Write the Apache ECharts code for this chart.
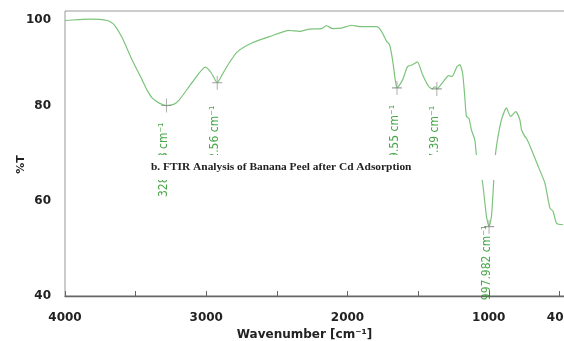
<!DOCTYPE html>
<html>
<head>
<meta charset="utf-8">
<script src="https://cdn.jsdelivr.net/npm/echarts@6/dist/echarts.min.js"></script>
<style>
  html, body { margin: 0; padding: 0; background: #fff; }
  #main { width: 564px; height: 341px; }
</style>
</head>
<body>
<div id="main"></div>
<script>
// spectrum (wavenumber, %T)
var wavenumber = [4000, 3900, 3830, 3700, 3652, 3596, 3525, 3454, 3420, 3383, 3333, 3282.18, 3227, 3191, 3121, 3099, 3007, 2965,
  2922.56, 2887, 2837, 2780, 2674, 2553, 2411, 2340, 2270, 2184, 2149, 2106, 2043, 1972, 1915, 1794,
  1759, 1723, 1702, 1681, 1662, 1649.55, 1610, 1575, 1540, 1505, 1470, 1425, 1400, 1385, 1375, 1367.39,
  1320, 1285, 1260, 1225, 1205, 1185, 1170, 1158, 1140, 1123, 1099, 1087, 1045, 1016, 997.982, 981, 965,
  953, 934, 910, 875, 846, 809, 780, 768, 745, 733, 697, 650, 603, 567, 544, 520, 473];
var transmittance = [98.0, 98.2, 98.3, 98.0, 97.1, 94.4, 89.7, 85.5, 83.4, 81.7, 80.6, 80.1, 80.4, 81.3, 84.1, 85.0, 88.2, 87.0,
  84.9, 86.6, 89.1, 91.4, 93.3, 94.6, 95.9, 95.7, 96.2, 96.3, 96.9, 96.3, 96.4, 97.0, 96.7, 96.7,
  95.7, 93.6, 92.9, 89.7, 85.5, 83.8, 85.5, 88.3, 88.7, 89.3, 86.7, 84.1, 83.6, 84.0, 84.0, 83.6,
  85.2, 86.4, 86.2, 88.3, 88.7, 86.9, 82.0, 77.8, 77.4, 75.0, 72.9, 69.7, 64.1, 56.7, 54.6, 56.7, 64.1,
  69.7, 73.6, 77.1, 79.6, 77.8, 78.8, 77.1, 75.0, 73.6, 73.2, 70.8, 67.3, 63.8, 58.5, 57.8, 55.3, 55.0];

// marked peaks
var peakWn = [3282.18, 2922.56, 1649.55, 1367.39, 997.982];
var peakT = [80.1, 84.9, 83.8, 83.6, 54.6];
var peakText = ['3282.18 cm⁻¹', '2922.56 cm⁻¹', '1649.55 cm⁻¹', '1367.39 cm⁻¹', '997.982 cm⁻¹'];

// axis labels
var xLabels = { 4000: '4000', 3000: '3000', 2000: '2000', 1000: '1000', 500: '400' };
var yLabels = [40, 60, 80, 100];

var chart = echarts.init(document.getElementById('main'));

var lineData = wavenumber.map(function (w, i) { return [w, transmittance[i]]; });

var labelGap = [20, 26, 20, 20, 2];
var peakData = peakWn.map(function (w, i) {
  return {
    value: [w, peakT[i]],
    label: { formatter: peakText[i], position: [5, 7 + labelGap[i]] }
  };
});

var option = {
  animation: false,
  title: {
    text: 'b. FTIR Analysis of Banana Peel after Cd Adsorption',
    left: 140,
    top: 155,
    backgroundColor: '#fff',
    padding: [7, 98, 7, 11],
    textStyle: { fontFamily: 'Liberation Serif', fontWeight: 'bold', fontSize: 11.4, color: '#222' }
  },
  grid: {
    left: 65, right: -66, top: 11, bottom: 45,
    outerBoundsMode: 'none',
    containLabel: false,
    show: true, borderColor: '#999', borderWidth: 1
  },
  xAxis: {
    type: 'value',
    inverse: true,
    min: 0, max: 4000, interval: 500,
    name: 'Wavenumber [cm⁻¹]',
    nameLocation: 'middle',
    nameGap: 29,
    nameTextStyle: { fontFamily: 'DejaVu Sans', fontWeight: 'bold', fontSize: 12, color: '#222', padding: [0, 86, 0, 0] },
    axisLine: { lineStyle: { color: '#666', width: 1.3 } },
    axisTick: { inside: true, length: 5, lineStyle: { color: '#666' } },
    splitLine: { show: false },
    axisLabel: {
      margin: 16,
      fontFamily: 'DejaVu Sans', fontWeight: 'bold', fontSize: 12, color: '#222',
      formatter: function (v) { return xLabels[v] || ''; }
    }
  },
  yAxis: {
    type: 'value',
    min: 40, max: 100, interval: 10,
    name: '%T',
    nameLocation: 'middle',
    nameGap: 38,
    nameRotate: 90,
    nameMoveOverlap: false,
    nameTextStyle: { fontFamily: 'DejaVu Sans', fontWeight: 'bold', fontSize: 11, color: '#222', padding: [0, 22, 0, 0] },
    axisLine: { show: true, lineStyle: { color: '#666', width: 1.3 } },
    axisTick: { show: true, inside: true, length: 5, lineStyle: { color: '#666' } },
    splitLine: { show: false },
    axisLabel: {
      margin: 14,
      fontFamily: 'DejaVu Sans', fontWeight: 'bold', fontSize: 12, color: '#222', lineHeight: 18,
      formatter: function (v) {
        if (yLabels.indexOf(v) < 0) return '';
        return v === 100 ? '\n100' : String(v);
      }
    }
  },
  series: [
    {
      type: 'line',
      data: lineData,
      showSymbol: false,
      smooth: 0.2,
      lineStyle: { color: '#7cc47c', width: 1.2 },
      z: 2
    },
    {
      type: 'scatter',
      data: peakData,
      symbol: 'path://M5,0L5,14M0,7L10,7',
      symbolSize: [10, 14],
      itemStyle: { color: 'none', borderColor: '#888', borderWidth: 1 },
      label: {
        show: true,
        rotate: 90,
        align: 'right',
        verticalAlign: 'middle',
        fontFamily: "'DejaVu Sans Condensed', 'Liberation Sans Narrow', 'Noto Sans'",
        fontSize: 12,
        color: '#1a8f1a'
      },
      z: 3
    }
  ]
};

chart.setOption(option);
</script>
</body>
</html>
